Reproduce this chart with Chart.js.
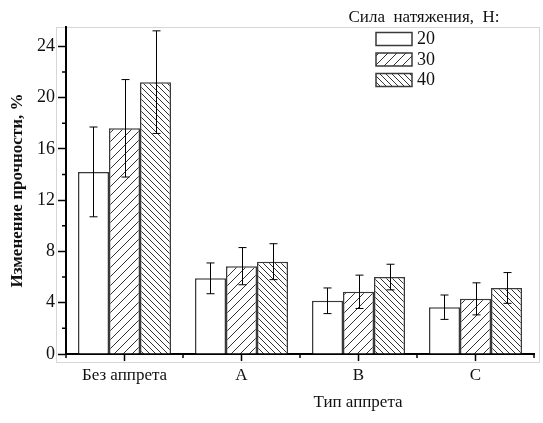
<!DOCTYPE html>
<html>
<head>
<meta charset="utf-8">
<script src="https://cdn.jsdelivr.net/npm/chart.js@4"></script>
<style>
  html, body { margin: 0; padding: 0; background: #fff; }
  #wrap { width: 543px; height: 423px; position: relative; }
</style>
</head>
<body>
<div id="wrap"><canvas id="strengthChart"></canvas></div>
<script>
// Изменение прочности в зависимости от типа аппрета и силы натяжения

const categories = ['Без аппрета', 'A', 'B', 'C'];
const forces = ['20', '30', '40'];
const change20 = [14.2, 5.9, 4.15, 3.65];
const change30 = [17.6, 6.85, 4.85, 4.3];
const change40 = [21.2, 7.2, 6.0, 5.15];
const err20 = [3.5, 1.2, 1.0, 0.95];
const err30 = [3.8, 1.45, 1.3, 1.25];
const err40 = [4.0, 1.4, 1.0, 1.2];
const yTicks = [0, 4, 8, 12, 16, 20, 24];
const yMinorTicks = [2, 6, 10, 14, 18, 22];

const FONT = "'Liberation Serif', 'Times New Roman', serif";
const INK = '#111';
const EDGE = '#3a3a3a';

Chart.defaults.font.family = FONT;
Chart.defaults.color = INK;

function hatch(step, dir) {
  const c = document.createElement('canvas');
  c.width = step; c.height = step;
  const g = c.getContext('2d');
  g.fillStyle = '#fff';
  g.fillRect(0, 0, step, step);
  g.strokeStyle = '#333';
  g.lineWidth = 1;
  g.beginPath();
  if (dir === '/') {
    for (const o of [-step, 0, step]) {
      g.moveTo(o, step); g.lineTo(o + step, 0);
    }
  } else {
    for (const o of [-step, 0, step]) {
      g.moveTo(o, 0); g.lineTo(o + step, step);
    }
  }
  g.stroke();
  return g.createPattern(c, 'repeat');
}

const fills = ['#ffffff', hatch(9, '/'), hatch(6, '\\')];
const series = [change20, change30, change40];
const errors = [err20, err30, err40];

// light frame around the plot + minor ticks
const framePlugin = {
  id: 'frame',
  beforeDraw(chart) {
    const { ctx, chartArea: a } = chart;
    ctx.save();
    ctx.strokeStyle = '#d6d6d6';
    ctx.lineWidth = 1;
    ctx.strokeRect(a.left - 9.5, a.top + 0.5, a.right - a.left + 15, a.bottom - a.top + 8);
    ctx.restore();
  },
  afterDraw(chart) {
    const { ctx, chartArea: a, scales } = chart;
    ctx.save();
    ctx.strokeStyle = '#000';
    ctx.lineWidth = 1.5;
    ctx.beginPath();
    yMinorTicks.forEach(v => {
      const y = scales.y.getPixelForValue(v);
      ctx.moveTo(a.left, y); ctx.lineTo(a.left - 4, y);
    });
    const x = scales.x;
    const half = (x.getPixelForValue(1) - x.getPixelForValue(0)) / 2;
    for (let i = 0; i <= categories.length; i++) {
      const px = x.getPixelForValue(0) - half + i * half * 2;
      ctx.moveTo(px, a.bottom); ctx.lineTo(px, a.bottom + 4);
    }
    ctx.stroke();

    // x axis title
    ctx.fillStyle = INK;
    ctx.font = '17px ' + FONT;
    ctx.textAlign = 'center';
    ctx.textBaseline = 'middle';
    ctx.fillText('Тип аппрета', 358, 403);

    // legend
    ctx.fillText('Сила  натяжения,  Н:', 424, 18);
    ctx.textAlign = 'left';
    ctx.font = '18px ' + FONT;
    forces.forEach((f, i) => {
      const by = 32.5 + i * 20.5;
      ctx.fillStyle = fills[i];
      ctx.fillRect(376, by, 36, 13);
      ctx.strokeStyle = EDGE;
      ctx.lineWidth = 1.5;
      ctx.strokeRect(376, by, 36, 13);
      ctx.fillStyle = INK;
      ctx.fillText(f, 417, by + 7);
    });
    ctx.restore();
  }
};

// error bars
const errorBarPlugin = {
  id: 'errorBars',
  afterDatasetsDraw(chart) {
    const { ctx, scales } = chart;
    ctx.save();
    ctx.strokeStyle = '#000';
    ctx.lineWidth = 1;
    chart.data.datasets.forEach((ds, di) => {
      chart.getDatasetMeta(di).data.forEach((bar, i) => {
        const v = ds.data[i], e = errors[di][i];
        const x = Math.round(bar.x) + 0.5;
        const top = scales.y.getPixelForValue(v + e);
        const bot = scales.y.getPixelForValue(v - e);
        ctx.beginPath();
        ctx.moveTo(x, top); ctx.lineTo(x, bot);
        ctx.moveTo(x - 4, top); ctx.lineTo(x + 4, top);
        ctx.moveTo(x - 4, bot); ctx.lineTo(x + 4, bot);
        ctx.stroke();
      });
    });
    ctx.restore();
  }
};

new Chart(document.getElementById('strengthChart'), {
  type: 'bar',
  data: {
    labels: categories,
    datasets: forces.map((f, i) => ({
      label: f,
      data: series[i],
      backgroundColor: fills[i],
      borderColor: EDGE,
      borderWidth: 1.5,
      borderSkipped: 'bottom',
      categoryPercentage: 0.795,
      barPercentage: 1.0
    }))
  },
  options: {
    responsive: true,
    maintainAspectRatio: false,
    animation: false,
    layout: { padding: { left: 0, right: 9, top: 27, bottom: 0 } },
    plugins: {
      legend: { display: false },
      tooltip: { enabled: false }
    },
    scales: {
      x: {
        afterFit: s => { s.height = 69; },
        grid: { offset: false, drawOnChartArea: false, tickLength: 7, tickColor: '#000', tickWidth: 1.5 },
        border: { display: true, color: '#000', width: 2 },
        ticks: { font: { size: 17 }, color: INK, padding: 4, maxRotation: 0 }
      },
      y: {
        min: 0,
        max: 25.5,
        afterFit: s => { s.width = 66; },
        afterBuildTicks: s => { s.ticks = yTicks.map(v => ({ value: v })); },
        grid: { drawOnChartArea: false, tickLength: 8, tickColor: '#000', tickWidth: 1.5 },
        border: { display: true, color: '#000', width: 2 },
        ticks: { font: { size: 18 }, color: INK, padding: 3 },
        title: {
          display: true,
          text: 'Изменение прочности, %',
          font: { size: 17, weight: 'bold' },
          color: INK,
          padding: { top: 7, bottom: 0 }
        }
      }
    }
  },
  plugins: [framePlugin, errorBarPlugin]
});
</script>
</body>
</html>
